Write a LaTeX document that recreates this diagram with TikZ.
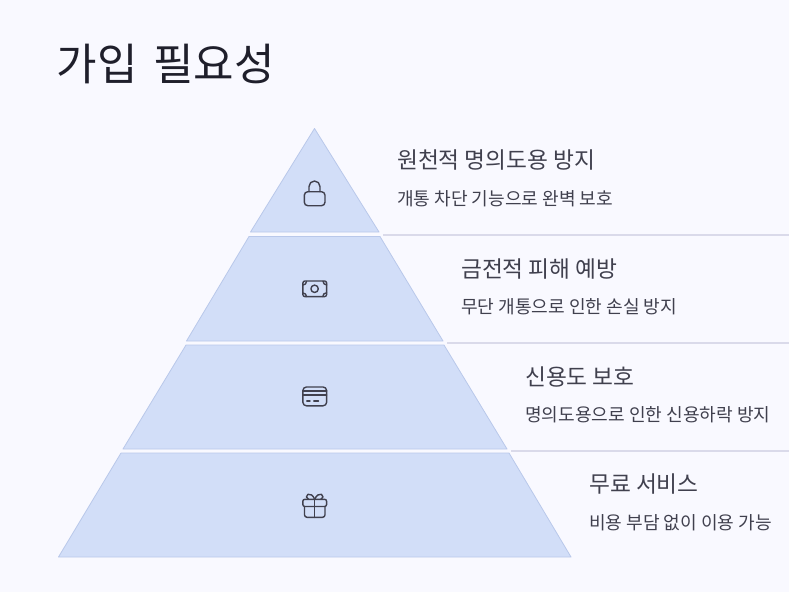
\documentclass[tikz,border=0pt]{standalone}
\usepackage{fontspec}
\setmainfont{Noto Sans CJK KR}
\newfontfamily\titlefont[WordSpace=1.6]{Noto Sans CJK KR}
\definecolor{bgc}{HTML}{F9F9FF}
\definecolor{tierfill}{HTML}{D2DEF8}
\definecolor{tierline}{HTML}{B9C8EA}
\definecolor{rulec}{HTML}{DADAEA}
\definecolor{ink}{HTML}{1F1F2B}
\definecolor{inkb}{HTML}{40404E}
\tikzset{
  tier/.style={fill=tierfill,draw=tierline,line width=0.8pt,line join=round},
  rulel/.style={draw=rulec,line width=1.5pt},
  headt/.style={anchor=west,inner sep=0pt,font=\fontsize{22.7}{27}\selectfont,text=inkb},
  subt/.style={anchor=west,inner sep=0pt,font=\fontsize{18.1}{22}\selectfont,text=inkb},
  icon/.style={draw=inkb,line width=1.4pt,line cap=round,line join=round,fill=none}
}
\begin{document}
\begin{tikzpicture}[x=1pt,y=-1pt]
\path[use as bounding box,fill=bgc] (0,0) rectangle (789,592);
\node[anchor=west,inner sep=0pt,font=\titlefont\fontsize{44}{52}\selectfont,text=ink] (title) at (56.5,63.5) {가입 필요성};
% tiers
\draw[tier] (314.5,128.5) -- (379,232) -- (250.5,232) -- cycle;
\draw[tier] (249,236.5) -- (380,236.5) -- (443,341) -- (186.5,341) -- cycle;
\draw[tier] (186,345) -- (444,345) -- (507,449) -- (123,449) -- cycle;
\draw[tier] (121,453) -- (509,453) -- (571,557) -- (58.5,557) -- cycle;
% rules
\coordinate (r1a) at (383,235); \coordinate (r1b) at (789,235);
\coordinate (r2a) at (447,343); \coordinate (r2b) at (789,343);
\coordinate (r3a) at (511,451); \coordinate (r3b) at (789,451);
\draw[rulel] (r1a) -- (r1b);
\draw[rulel] (r2a) -- (r2b);
\draw[rulel] (r3a) -- (r3b);
% labels
\node[headt] (h1) at (397,160.5) {원천적 명의도용 방지};
\node[subt] (s1) at (397,198.5) {개통 차단 기능으로 완벽 보호};
\node[headt] (h2) at (461,268.5) {금전적 피해 예방};
\node[subt] (s2) at (461,306.5) {무단 개통으로 인한 손실 방지};
\node[headt] (h3) at (525,376.5) {신용도 보호};
\node[subt] (s3) at (525,414.5) {명의도용으로 인한 신용하락 방지};
\node[headt] (h4) at (589,484.5) {무료 서비스};
\node[subt] (s4) at (589,522.5) {비용 부담 없이 이용 가능};
% lock
\draw[icon,rounded corners=3.5pt] (304.3,191.7) rectangle (325,205.7);
\draw[icon] (309,191.7) -- (309,186.5) arc[start angle=180,end angle=360,radius=5.5] -- (320,191.7);
% money
\draw[icon,rounded corners=2pt] (302.9,281) rectangle (326.6,296.6);
\draw[icon] (303,285) arc[start angle=90,end angle=0,radius=3.5];
\draw[icon] (323,281.2) arc[start angle=180,end angle=90,radius=3.7];
\draw[icon] (326.5,292.8) arc[start angle=270,end angle=180,radius=3.7];
\draw[icon] (306.5,296.5) arc[start angle=0,end angle=-90,radius=3.5];
\draw[icon] (314.6,288.8) circle[radius=3.7];
% card
\draw[icon,rounded corners=3.5pt] (302.9,387) rectangle (326.6,405.8);
\draw[icon] (302.9,391) -- (326.6,391);
\draw[icon] (302.9,395) -- (326.6,395);
\draw[icon] (306.8,401) -- (310,401);
\draw[icon] (313.8,401) -- (318.5,401);
% gift
\draw[icon,rounded corners=2pt] (302.8,499.3) rectangle (326.6,506.5);
\draw[icon,rounded corners=2.5pt] (304.5,506.5) -- (304.5,517.3) -- (325,517.3) -- (325,506.5);
\draw[icon] (314.7,499.3) -- (314.7,517.3);
\draw[icon] (314.7,499.3) .. controls (313,495) and (310,493.6) .. (308,494.3) .. controls (305.5,495.3) and (306,498.5) .. (308.5,499.3);
\draw[icon] (314.7,499.3) .. controls (316.4,495) and (319.4,493.6) .. (321.4,494.3) .. controls (323.9,495.3) and (323.4,498.5) .. (320.9,499.3);
\end{tikzpicture}
\end{document}
